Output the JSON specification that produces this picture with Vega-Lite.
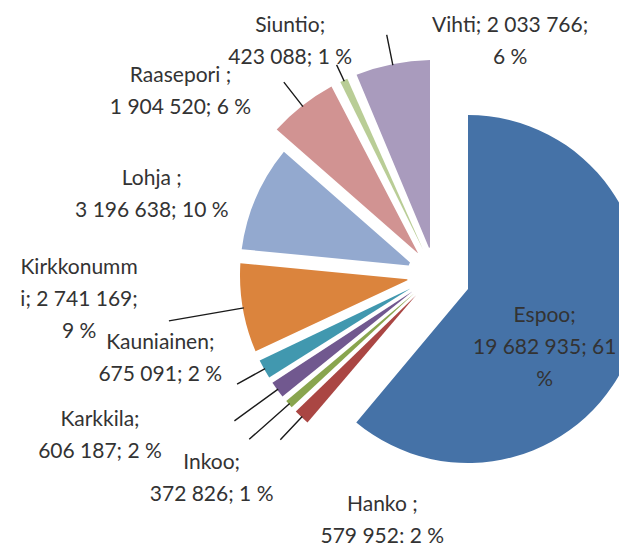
{
  "$schema": "https://vega.github.io/schema/vega-lite/v6.json",
  "width": 368,
  "height": 368,
  "autosize": "none",
  "padding": {"left": 251, "top": 91, "right": 0, "bottom": 84},
  "background": "white",
  "config": {
    "view": {"stroke": null},
    "text": {"font": "Lato, sans-serif", "fontSize": 21, "color": "#333333", "lineHeight": 32, "lineBreak": "\n", "align": "center", "baseline": "middle"}
  },
  "data": {
    "values": [
      {"name": "Espoo", "value": 19682935, "label": "Espoo;\n19 682 935; 61\n%"},
      {"name": "Hanko", "value": 579952, "label": "Hanko ;\n579 952; 2 %"},
      {"name": "Inkoo", "value": 372826, "label": "Inkoo;\n372 826; 1 %"},
      {"name": "Karkkila", "value": 606187, "label": "Karkkila;\n606 187; 2 %"},
      {"name": "Kauniainen", "value": 675091, "label": "Kauniainen;\n675 091; 2 %"},
      {"name": "Kirkkonummi", "value": 2741169, "label": "Kirkkonumm\ni; 2 741 169;\n9 %"},
      {"name": "Lohja", "value": 3196638, "label": "Lohja ;\n3 196 638; 10 %"},
      {"name": "Raasepori", "value": 1904520, "label": "Raasepori ;\n1 904 520; 6 %"},
      {"name": "Siuntio", "value": 423088, "label": "Siuntio;\n423 088; 1 %"},
      {"name": "Vihti", "value": 2033766, "label": "Vihti; 2 033 766;\n6 %"}
    ]
  },
  "transform": [
    {"stack": "value", "groupby": [], "as": ["v0", "v1"]},
    {"calculate": "(datum.v0 + datum.v1) / 2", "as": "mid"}
  ],
  "layer": [
    {
      "transform": [{"filter": "datum.name == 'Espoo'"}],
      "mark": {"type": "arc", "radius": 174, "radius2": 0, "xOffset": 33, "yOffset": 14},
      "encoding": {
        "theta": {"field": "v1", "type": "quantitative", "scale": {"nice": false, "zero": true}},
        "theta2": {"field": "v0"},
        "color": {
          "field": "name", "type": "nominal", "legend": null,
          "scale": {
            "domain": ["Espoo", "Hanko", "Inkoo", "Karkkila", "Kauniainen", "Kirkkonummi", "Lohja", "Raasepori", "Siuntio", "Vihti"],
            "range": ["#4572A7", "#AA4643", "#89A54E", "#71588F", "#4198AF", "#DB843D", "#93A9CF", "#D19392", "#B9CD96", "#A99BBD"]
          }
        }
      }
    },
    {
      "transform": [{"filter": "datum.name == 'Kirkkonummi' || datum.name == 'Lohja'"}],
      "mark": {"type": "arc", "radius": 195, "radius2": 28, "padAngle": 0.0711},
      "encoding": {
        "theta": {"field": "v1", "type": "quantitative"},
        "theta2": {"field": "v0"},
        "color": {"field": "name", "type": "nominal", "legend": null}
      }
    },
    {
      "transform": [{"filter": "datum.name == 'Raasepori' || datum.name == 'Siuntio' || datum.name == 'Vihti'"}],
      "mark": {"type": "arc", "radius": 215, "radius2": 28, "padAngle": 0.0461},
      "encoding": {
        "theta": {"field": "v1", "type": "quantitative"},
        "theta2": {"field": "v0"},
        "color": {"field": "name", "type": "nominal", "legend": null}
      }
    },
    {
      "transform": [{"filter": "datum.name == 'Hanko' || datum.name == 'Inkoo' || datum.name == 'Karkkila' || datum.name == 'Kauniainen'"}],
      "mark": {"type": "arc", "radius": 195, "radius2": 28, "padAngle": 0.0305},
      "encoding": {
        "theta": {"field": "v1", "type": "quantitative"},
        "theta2": {"field": "v0"},
        "color": {"field": "name", "type": "nominal", "legend": null}
      }
    },
    {
      "transform": [{"filter": "datum.name == 'Kirkkonummi'"}],
      "mark": {"type": "arc", "radius": 270, "radius2": 194, "filled": false, "stroke": "#1a1a1a", "strokeWidth": 1.4},
      "encoding": {"theta": {"field": "mid", "type": "quantitative"}, "theta2": {"field": "mid"}}
    },
    {
      "transform": [{"filter": "datum.name == 'Karkkila' || datum.name == 'Inkoo'"}],
      "mark": {"type": "arc", "radius": 248, "radius2": 194, "filled": false, "stroke": "#1a1a1a", "strokeWidth": 1.4},
      "encoding": {"theta": {"field": "mid", "type": "quantitative"}, "theta2": {"field": "mid"}}
    },
    {
      "transform": [{"filter": "datum.name == 'Hanko' || datum.name == 'Kauniainen'"}],
      "mark": {"type": "arc", "radius": 226, "radius2": 194, "filled": false, "stroke": "#1a1a1a", "strokeWidth": 1.4},
      "encoding": {"theta": {"field": "mid", "type": "quantitative"}, "theta2": {"field": "mid"}}
    },
    {
      "transform": [{"filter": "datum.name == 'Raasepori' || datum.name == 'Vihti'"}],
      "mark": {"type": "arc", "radius": 245, "radius2": 214, "filled": false, "stroke": "#1a1a1a", "strokeWidth": 1.4},
      "encoding": {"theta": {"field": "mid", "type": "quantitative"}, "theta2": {"field": "mid"}}
    },
    {
      "transform": [{"filter": "datum.name == 'Siuntio'"}],
      "mark": {"type": "arc", "radius": 232, "radius2": 214, "filled": false, "stroke": "#1a1a1a", "strokeWidth": 1.4},
      "encoding": {"theta": {"field": "mid", "type": "quantitative"}, "theta2": {"field": "mid"}}
    },
    {
      "transform": [{"filter": "datum.name == 'Espoo'"}],
      "mark": {"type": "text", "radius": 117, "thetaOffset": 0.0075},
      "encoding": {"theta": {"field": "mid", "type": "quantitative"}, "text": {"field": "label"}}
    },
    {
      "transform": [{"filter": "datum.name == 'Hanko'"}],
      "mark": {"type": "text", "radius": 236, "thetaOffset": -0.5287},
      "encoding": {"theta": {"field": "mid", "type": "quantitative"}, "text": {"field": "label"}}
    },
    {
      "transform": [{"filter": "datum.name == 'Inkoo'"}],
      "mark": {"type": "text", "radius": 292, "thetaOffset": 0.0243},
      "encoding": {"theta": {"field": "mid", "type": "quantitative"}, "text": {"field": "label"}}
    },
    {
      "transform": [{"filter": "datum.name == 'Karkkila'"}],
      "mark": {"type": "text", "radius": 365, "thetaOffset": 0.2203},
      "encoding": {"theta": {"field": "mid", "type": "quantitative"}, "text": {"field": "label"}}
    },
    {
      "transform": [{"filter": "datum.name == 'Kauniainen'"}],
      "mark": {"type": "text", "radius": 283, "thetaOffset": 0.2611},
      "encoding": {"theta": {"field": "mid", "type": "quantitative"}, "text": {"field": "label"}}
    },
    {
      "transform": [{"filter": "datum.name == 'Kirkkonummi'"}],
      "mark": {"type": "text", "radius": 356, "thetaOffset": 0.1897},
      "encoding": {"theta": {"field": "mid", "type": "quantitative"}, "text": {"field": "label"}}
    },
    {
      "transform": [{"filter": "datum.name == 'Lohja'"}],
      "mark": {"type": "text", "radius": 299, "thetaOffset": -0.082},
      "encoding": {"theta": {"field": "mid", "type": "quantitative"}, "text": {"field": "label"}}
    },
    {
      "transform": [{"filter": "datum.name == 'Raasepori'"}],
      "mark": {"type": "text", "radius": 323, "thetaOffset": -0.2426},
      "encoding": {"theta": {"field": "mid", "type": "quantitative"}, "text": {"field": "label"}}
    },
    {
      "transform": [{"filter": "datum.name == 'Siuntio'"}],
      "mark": {"type": "text", "radius": 288, "thetaOffset": -0.089},
      "encoding": {"theta": {"field": "mid", "type": "quantitative"}, "text": {"field": "label"}}
    },
    {
      "transform": [{"filter": "datum.name == 'Vihti'"}],
      "mark": {"type": "text", "radius": 260, "thetaOffset": 0.4915},
      "encoding": {"theta": {"field": "mid", "type": "quantitative"}, "text": {"field": "label"}}
    }
  ]
}
